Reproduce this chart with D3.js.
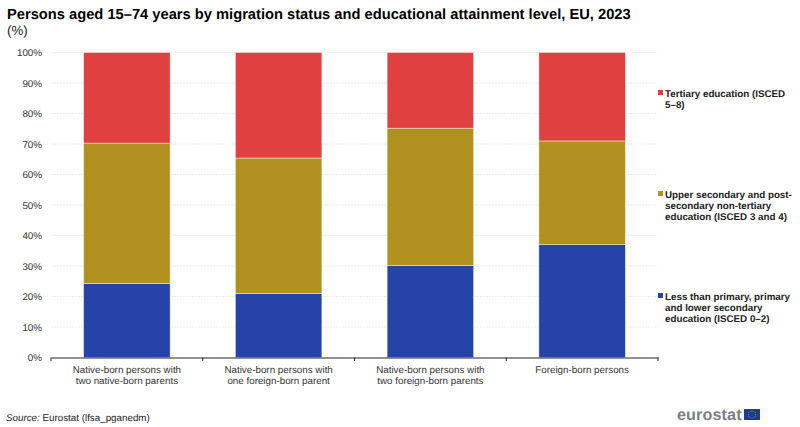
<!DOCTYPE html>
<html>
<head>
<meta charset="utf-8">
<script src="https://cdn.jsdelivr.net/npm/d3@7"></script>
<style>
  body { margin: 0; background: #fff; }
  text { font-family: "Liberation Sans", Arial, sans-serif; text-rendering: geometricPrecision; }
</style>
</head>
<body>
<svg width="800" height="427"></svg>
<script>
const categories = [
  ['Native-born persons with', 'two native-born parents'],
  ['Native-born persons with', 'one foreign-born parent'],
  ['Native-born persons with', 'two foreign-born parents'],
  ['Foreign-born persons']
];
const lowEdu = [24.3, 21.0, 30.2, 37.0];
const midEdu = [46.0, 44.4, 45.0, 34.0];
const highEdu = [29.7, 34.6, 24.8, 29.0];
const yTicks = [0, 10, 20, 30, 40, 50, 60, 70, 80, 90, 100];

const seriesNames = ['low', 'mid', 'high'];
const colors = {low: '#2644a7', mid: '#b09120', high: '#e04040'};
const legendLabels = {
  high: ['Tertiary education (ISCED', '5–8)'],
  mid: ['Upper secondary and post-', 'secondary non-tertiary', 'education (ISCED 3 and 4)'],
  low: ['Less than primary, primary', 'and lower secondary', 'education (ISCED 0–2)']
};
const legendY = {high: 93, mid: 194, low: 296};

const svg = d3.select('svg');

const rows = categories.map((c, i) => ({
  i: i, low: lowEdu[i], mid: midEdu[i], high: highEdu[i]
}));

const x = d3.scaleBand().domain(d3.range(categories.length)).range([51, 658]).paddingInner(0.43).paddingOuter(0.215);
const xOuter = d3.scaleBand().domain(d3.range(categories.length)).range([51, 658]);
const y = d3.scaleLinear().domain([0, 100]).range([357.5, 52.5]);

// title
svg.append('text').attr('x', 7).attr('y', 18.5)
  .attr('font-size', 14.7).attr('font-weight', 'bold').attr('fill', '#000')
  .text('Persons aged 15–74 years by migration status and educational attainment level, EU, 2023');
svg.append('text').attr('x', 7).attr('y', 34.5)
  .attr('font-size', 13.3).attr('fill', '#222').text('(%)');

// y axis, gridlines first
const yAxis = d3.axisLeft(y).tickValues(yTicks).tickSize(0).tickPadding(9).tickFormat(d => d + '%');
const yG = svg.append('g').attr('transform', 'translate(51,0)').call(yAxis);
yG.select('.domain').remove();
yG.selectAll('text').attr('font-size', 9.8).attr('fill', '#333').style('font-family', '"Liberation Sans", Arial, sans-serif');
yG.selectAll('line.grid').data(yTicks.filter(d => d > 0)).enter().append('line')
  .attr('class', 'grid')
  .attr('x1', 0).attr('x2', 607)
  .attr('y1', d => y(d)).attr('y2', d => y(d))
  .attr('stroke', '#ececec').attr('stroke-width', 1).attr('stroke-dasharray', '2,1');

// stacked bars
const stacked = d3.stack().keys(seriesNames)(rows);
svg.selectAll('g.series').data(stacked).enter().append('g')
  .attr('class', 'series')
  .attr('fill', d => colors[d.key])
  .selectAll('rect').data(d => d).enter().append('rect')
  .attr('x', d => x(d.data.i))
  .attr('width', x.bandwidth())
  .attr('y', d => y(d[1]))
  .attr('height', d => y(d[0]) - y(d[1]))
  .attr('stroke', '#fff').attr('stroke-width', 0.6).attr('stroke-opacity', 0.7);

// x axis
const xAxis = d3.axisBottom(xOuter).tickSize(0).tickFormat('');
const xG = svg.append('g').attr('transform', 'translate(0,357.5)').call(xAxis);
xG.select('.domain').attr('stroke', '#222').attr('stroke-width', 1);
xG.selectAll('.tick').remove();
xG.selectAll('line.sep').data(d3.range(categories.length + 1)).enter().append('line')
  .attr('class', 'sep')
  .attr('x1', d => 51 + d * xOuter.step()).attr('x2', d => 51 + d * xOuter.step())
  .attr('y1', 0).attr('y2', 3.5)
  .attr('stroke', '#222');

const labels = svg.selectAll('text.cat').data(categories).enter().append('text')
  .attr('class', 'cat')
  .attr('text-anchor', 'middle').attr('font-size', 9.8).attr('fill', '#333');
labels.selectAll('tspan').data((d, i) => d.map(t => ({t: t, i: i}))).enter().append('tspan')
  .attr('x', d => xOuter(d.i) + xOuter.bandwidth() / 2)
  .attr('y', (d, j) => 373 + j * 11)
  .text(d => d.t);

// legend
const legend = svg.selectAll('g.legend').data(['high', 'mid', 'low']).enter().append('g')
  .attr('class', 'legend')
  .attr('transform', d => `translate(658,${legendY[d]})`);
legend.append('rect').attr('y', -3).attr('width', 5).attr('height', 5).attr('fill', d => colors[d]);
const legendText = legend.append('text').attr('font-size', 9.8).attr('font-weight', 'bold').attr('fill', '#222');
legendText.selectAll('tspan').data(d => legendLabels[d]).enter().append('tspan')
  .attr('x', 7).attr('y', (d, j) => 3.5 + j * 11).text(d => d);

// source
const source = svg.append('text').attr('x', 6).attr('y', 421).attr('font-size', 9.8).attr('fill', '#222');
source.append('tspan').attr('font-style', 'italic').text('Source:');
source.append('tspan').text(' Eurostat (lfsa_pganedm)');

// eurostat logo
svg.append('text').attr('x', 677).attr('y', 420)
  .attr('font-size', 16.2).attr('font-weight', 'bold').attr('letter-spacing', 0.1).attr('fill', '#7b7f8c').text('eurostat');
svg.append('rect').attr('x', 744).attr('y', 409).attr('width', 16).attr('height', 11).attr('fill', '#1f3a9a');
svg.selectAll('circle.star').data(d3.range(12)).enter().append('circle')
  .attr('class', 'star')
  .attr('cx', d => 752 + 3.6 * Math.cos(d * Math.PI / 6))
  .attr('cy', d => 414.5 + 3.6 * Math.sin(d * Math.PI / 6))
  .attr('r', 0.4).attr('fill', '#e5c93b');
</script>
</body>
</html>
